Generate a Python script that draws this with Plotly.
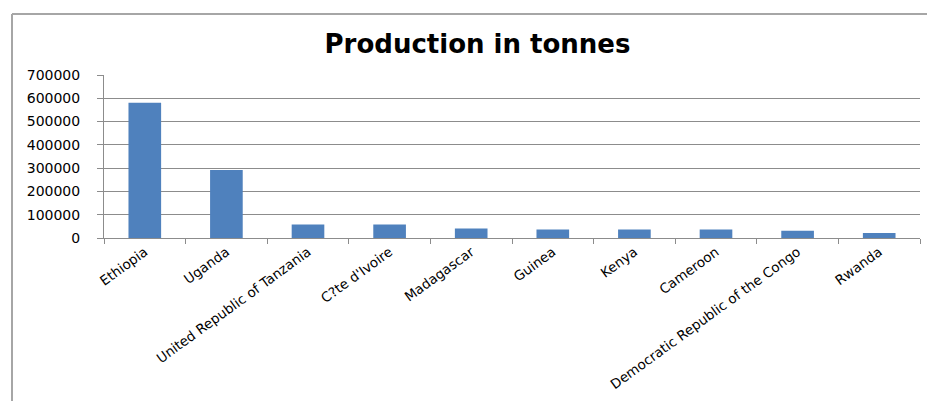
import plotly.graph_objects as go

countries = ["Ethiopia", "Uganda", "United Republic of Tanzania", "C?te d'Ivoire",
             "Madagascar", "Guinea", "Kenya", "Cameroon",
             "Democratic Republic of the Congo", "Rwanda"]
production = [581000, 292000, 58000, 58000, 41000, 36000, 36000, 36000, 31000, 22000]
y_ticks = [0, 100000, 200000, 300000, 400000, 500000, 600000, 700000]

W, H = 927, 401
L, R, T, B = 104, 7, 75, 163
pw = W - L - R
ph = H - T - B

fig = go.Figure(go.Bar(x=countries, y=production, marker=dict(color="#4F81BD", line=dict(width=0)),
                       width=0.4))

def px_x(p):
    return (p - L) / pw

def px_y(p):
    return (H - B - p) / ph

frame = dict(color="#A6A6A6", width=2)
fig.add_shape(type="line", xref="paper", yref="paper",
              x0=px_x(12), x1=px_x(960), y0=px_y(14), y1=px_y(14), line=frame)
fig.add_shape(type="line", xref="paper", yref="paper",
              x0=px_x(12), x1=px_x(12), y0=px_y(14), y1=px_y(430), line=frame)

fig.update_layout(
    width=W, height=H,
    margin=dict(l=L, r=R, t=T, b=B),
    paper_bgcolor="white", plot_bgcolor="white",
    showlegend=False,
    title=dict(text="<b>Production in tonnes</b>", x=477.5 / W, xanchor="center",
               y=1 - 44 / H, yanchor="middle",
               font=dict(family="DejaVu Sans", size=26, color="black")),
    xaxis=dict(tickangle=-36, tickson="boundaries", ticks="outside", ticklen=5,
               tickcolor="#8C8C8C", showline=True, linecolor="#8C8C8C", linewidth=1,
               showgrid=False, tickfont=dict(family="DejaVu Sans", size=13.5, color="black"),
               range=[-0.5, 9.5], automargin=False),
    yaxis=dict(range=[0, 700000], tickvals=y_ticks, ticktext=[str(v) for v in y_ticks],
               ticks="outside", ticklen=6, tickcolor="#8C8C8C", ticklabelstandoff=14,
               showline=True, linecolor="#8C8C8C", linewidth=1,
               showgrid=True, gridcolor="#8C8C8C", gridwidth=1, zeroline=False,
               tickfont=dict(family="DejaVu Sans", size=14, color="black"),
               automargin=False),
)

fig.write_html("out.html")
